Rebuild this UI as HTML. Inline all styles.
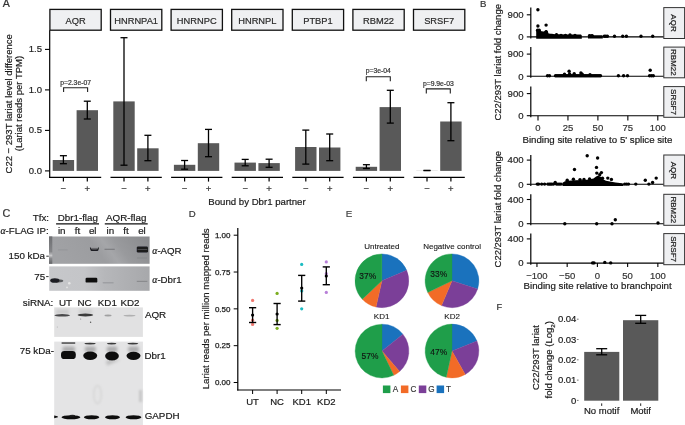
<!DOCTYPE html>
<html><head><meta charset="utf-8"><style>
html,body{margin:0;padding:0;background:#fff;}
body{width:685px;height:425px;overflow:hidden;position:relative;}
svg{position:absolute;left:0;top:0;font-family:"Liberation Sans", sans-serif;will-change:transform;}
</style></head><body>
<svg width="685" height="425" viewBox="0 0 685 425">
<defs><filter id="b1" x="-50%" y="-50%" width="200%" height="200%"><feGaussianBlur stdDeviation="0.6"/></filter><filter id="b2" x="-50%" y="-50%" width="200%" height="200%"><feGaussianBlur stdDeviation="1.0"/></filter><filter id="b3" x="-50%" y="-50%" width="200%" height="200%"><feGaussianBlur stdDeviation="1.8"/></filter><linearGradient id="g1" x1="0" y1="0" x2="1" y2="0"><stop offset="0" stop-color="#6e6e6e"/><stop offset="0.03" stop-color="#a9a9a9"/><stop offset="0.5" stop-color="#b9b9b9"/><stop offset="1" stop-color="#b0b0b0"/></linearGradient><linearGradient id="g2" x1="0" y1="0.2" x2="1" y2="0"><stop offset="0" stop-color="#a1a2a5"/><stop offset="0.4" stop-color="#9c9da0"/><stop offset="0.52" stop-color="#a5a6a9"/><stop offset="0.64" stop-color="#999a9d"/><stop offset="1" stop-color="#88898c"/></linearGradient><linearGradient id="g3" x1="0" y1="0" x2="0" y2="1"><stop offset="0" stop-color="#6e6f72"/><stop offset="0.55" stop-color="#848588"/><stop offset="0.7" stop-color="#c8c8ca"/><stop offset="0.8" stop-color="#8a8b8e"/><stop offset="1" stop-color="#636467"/></linearGradient><linearGradient id="g4" x1="0" y1="0" x2="1" y2="0"><stop offset="0" stop-color="#c6c7ca"/><stop offset="0.35" stop-color="#c4c5c8"/><stop offset="0.55" stop-color="#b6b7ba"/><stop offset="1" stop-color="#a7a8ab"/></linearGradient></defs>
<text x="2.8" y="6.9" font-size="10.6" text-anchor="start" fill="#333" stroke="#333" stroke-width="0.2">A</text>
<line x1="49.7" y1="30.2" x2="49.7" y2="177.9" stroke="#000" stroke-width="1.2" stroke-linecap="butt"/>
<line x1="45.0" y1="49.400000000000006" x2="49.7" y2="49.400000000000006" stroke="#000" stroke-width="1.1" stroke-linecap="butt"/>
<text x="42.0" y="52.400000000000006" font-size="9.5" text-anchor="end" fill="#222" stroke="#222" stroke-width="0.2">1.5</text>
<line x1="45.0" y1="89.9" x2="49.7" y2="89.9" stroke="#000" stroke-width="1.1" stroke-linecap="butt"/>
<text x="42.0" y="92.9" font-size="9.5" text-anchor="end" fill="#222" stroke="#222" stroke-width="0.2">1.0</text>
<line x1="45.0" y1="130.4" x2="49.7" y2="130.4" stroke="#000" stroke-width="1.1" stroke-linecap="butt"/>
<text x="42.0" y="133.4" font-size="9.5" text-anchor="end" fill="#222" stroke="#222" stroke-width="0.2">0.5</text>
<line x1="45.0" y1="170.9" x2="49.7" y2="170.9" stroke="#000" stroke-width="1.1" stroke-linecap="butt"/>
<text x="42.0" y="173.9" font-size="9.5" text-anchor="end" fill="#222" stroke="#222" stroke-width="0.2">0.0</text>
<text x="12.0" y="103.8" font-size="9.5" text-anchor="middle" fill="#1a1a1a" stroke="#1a1a1a" stroke-width="0.2" transform="rotate(-90 12.0 103.8)">C22 − 293T lariat level difference</text>
<text x="22.4" y="103.6" font-size="9.5" text-anchor="middle" fill="#1a1a1a" stroke="#1a1a1a" stroke-width="0.2" transform="rotate(-90 22.4 103.6)">(Lariat reads per TPM)</text>
<rect x="49.90" y="9.40" width="51.30" height="20.80" fill="#eff0f2" stroke="#111" stroke-width="1.3"/>
<text x="75.55" y="23.7" font-size="9.3" text-anchor="middle" fill="#2a2a2a" stroke="#2a2a2a" stroke-width="0.2">AQR</text>
<line x1="49.3" y1="177.3" x2="101.19999999999999" y2="177.3" stroke="#000" stroke-width="1.2" stroke-linecap="butt"/>
<rect x="52.70" y="160.00" width="21.40" height="10.90" fill="#595959"/>
<line x1="63.4" y1="155.7" x2="63.4" y2="163.7" stroke="#000" stroke-width="1.3" stroke-linecap="butt"/>
<line x1="59.9" y1="155.7" x2="66.9" y2="155.7" stroke="#000" stroke-width="1.3" stroke-linecap="butt"/>
<line x1="59.9" y1="163.7" x2="66.9" y2="163.7" stroke="#000" stroke-width="1.3" stroke-linecap="butt"/>
<line x1="63.4" y1="177.3" x2="63.4" y2="181.6" stroke="#000" stroke-width="1.2" stroke-linecap="butt"/>
<text x="63.4" y="191.7" font-size="9.5" text-anchor="middle" fill="#333" stroke="#333" stroke-width="0.2">−</text>
<rect x="76.60" y="110.20" width="21.40" height="60.70" fill="#595959"/>
<line x1="87.3" y1="101.2" x2="87.3" y2="119.0" stroke="#000" stroke-width="1.3" stroke-linecap="butt"/>
<line x1="83.8" y1="101.2" x2="90.8" y2="101.2" stroke="#000" stroke-width="1.3" stroke-linecap="butt"/>
<line x1="83.8" y1="119.0" x2="90.8" y2="119.0" stroke="#000" stroke-width="1.3" stroke-linecap="butt"/>
<line x1="87.3" y1="177.3" x2="87.3" y2="181.6" stroke="#000" stroke-width="1.2" stroke-linecap="butt"/>
<text x="87.3" y="191.7" font-size="9.5" text-anchor="middle" fill="#333" stroke="#333" stroke-width="0.2">+</text>
<rect x="110.50" y="9.40" width="51.30" height="20.80" fill="#eff0f2" stroke="#111" stroke-width="1.3"/>
<text x="136.15" y="23.7" font-size="9.3" text-anchor="middle" fill="#2a2a2a" stroke="#2a2a2a" stroke-width="0.2">HNRNPA1</text>
<line x1="110.5" y1="177.3" x2="161.8" y2="177.3" stroke="#000" stroke-width="1.2" stroke-linecap="butt"/>
<rect x="113.30" y="101.40" width="21.40" height="69.50" fill="#595959"/>
<line x1="124.0" y1="37.7" x2="124.0" y2="165.2" stroke="#000" stroke-width="1.3" stroke-linecap="butt"/>
<line x1="120.5" y1="37.7" x2="127.5" y2="37.7" stroke="#000" stroke-width="1.3" stroke-linecap="butt"/>
<line x1="120.5" y1="165.2" x2="127.5" y2="165.2" stroke="#000" stroke-width="1.3" stroke-linecap="butt"/>
<line x1="124.0" y1="177.3" x2="124.0" y2="181.6" stroke="#000" stroke-width="1.2" stroke-linecap="butt"/>
<text x="124.0" y="191.7" font-size="9.5" text-anchor="middle" fill="#333" stroke="#333" stroke-width="0.2">−</text>
<rect x="137.20" y="148.30" width="21.40" height="22.60" fill="#595959"/>
<line x1="147.9" y1="135.3" x2="147.9" y2="160.7" stroke="#000" stroke-width="1.3" stroke-linecap="butt"/>
<line x1="144.4" y1="135.3" x2="151.4" y2="135.3" stroke="#000" stroke-width="1.3" stroke-linecap="butt"/>
<line x1="144.4" y1="160.7" x2="151.4" y2="160.7" stroke="#000" stroke-width="1.3" stroke-linecap="butt"/>
<line x1="147.9" y1="177.3" x2="147.9" y2="181.6" stroke="#000" stroke-width="1.2" stroke-linecap="butt"/>
<text x="147.9" y="191.7" font-size="9.5" text-anchor="middle" fill="#333" stroke="#333" stroke-width="0.2">+</text>
<rect x="171.10" y="9.40" width="51.30" height="20.80" fill="#eff0f2" stroke="#111" stroke-width="1.3"/>
<text x="196.75" y="23.7" font-size="9.3" text-anchor="middle" fill="#2a2a2a" stroke="#2a2a2a" stroke-width="0.2">HNRNPC</text>
<line x1="171.1" y1="177.3" x2="222.39999999999998" y2="177.3" stroke="#000" stroke-width="1.2" stroke-linecap="butt"/>
<rect x="173.90" y="164.80" width="21.40" height="6.10" fill="#595959"/>
<line x1="184.6" y1="160.5" x2="184.6" y2="169.2" stroke="#000" stroke-width="1.3" stroke-linecap="butt"/>
<line x1="181.1" y1="160.5" x2="188.1" y2="160.5" stroke="#000" stroke-width="1.3" stroke-linecap="butt"/>
<line x1="181.1" y1="169.2" x2="188.1" y2="169.2" stroke="#000" stroke-width="1.3" stroke-linecap="butt"/>
<line x1="184.6" y1="177.3" x2="184.6" y2="181.6" stroke="#000" stroke-width="1.2" stroke-linecap="butt"/>
<text x="184.6" y="191.7" font-size="9.5" text-anchor="middle" fill="#333" stroke="#333" stroke-width="0.2">−</text>
<rect x="197.80" y="143.20" width="21.40" height="27.70" fill="#595959"/>
<line x1="208.5" y1="129.4" x2="208.5" y2="156.7" stroke="#000" stroke-width="1.3" stroke-linecap="butt"/>
<line x1="205.0" y1="129.4" x2="212.0" y2="129.4" stroke="#000" stroke-width="1.3" stroke-linecap="butt"/>
<line x1="205.0" y1="156.7" x2="212.0" y2="156.7" stroke="#000" stroke-width="1.3" stroke-linecap="butt"/>
<line x1="208.5" y1="177.3" x2="208.5" y2="181.6" stroke="#000" stroke-width="1.2" stroke-linecap="butt"/>
<text x="208.5" y="191.7" font-size="9.5" text-anchor="middle" fill="#333" stroke="#333" stroke-width="0.2">+</text>
<rect x="231.70" y="9.40" width="51.30" height="20.80" fill="#eff0f2" stroke="#111" stroke-width="1.3"/>
<text x="257.35" y="23.7" font-size="9.3" text-anchor="middle" fill="#2a2a2a" stroke="#2a2a2a" stroke-width="0.2">HNRNPL</text>
<line x1="231.70000000000002" y1="177.3" x2="283.0" y2="177.3" stroke="#000" stroke-width="1.2" stroke-linecap="butt"/>
<rect x="234.50" y="162.60" width="21.40" height="8.30" fill="#595959"/>
<line x1="245.20000000000002" y1="159.4" x2="245.20000000000002" y2="165.8" stroke="#000" stroke-width="1.3" stroke-linecap="butt"/>
<line x1="241.70000000000002" y1="159.4" x2="248.70000000000002" y2="159.4" stroke="#000" stroke-width="1.3" stroke-linecap="butt"/>
<line x1="241.70000000000002" y1="165.8" x2="248.70000000000002" y2="165.8" stroke="#000" stroke-width="1.3" stroke-linecap="butt"/>
<line x1="245.20000000000002" y1="177.3" x2="245.20000000000002" y2="181.6" stroke="#000" stroke-width="1.2" stroke-linecap="butt"/>
<text x="245.20000000000002" y="191.7" font-size="9.5" text-anchor="middle" fill="#333" stroke="#333" stroke-width="0.2">−</text>
<rect x="258.40" y="163.10" width="21.40" height="7.80" fill="#595959"/>
<line x1="269.1" y1="159.2" x2="269.1" y2="167.3" stroke="#000" stroke-width="1.3" stroke-linecap="butt"/>
<line x1="265.6" y1="159.2" x2="272.6" y2="159.2" stroke="#000" stroke-width="1.3" stroke-linecap="butt"/>
<line x1="265.6" y1="167.3" x2="272.6" y2="167.3" stroke="#000" stroke-width="1.3" stroke-linecap="butt"/>
<line x1="269.1" y1="177.3" x2="269.1" y2="181.6" stroke="#000" stroke-width="1.2" stroke-linecap="butt"/>
<text x="269.1" y="191.7" font-size="9.5" text-anchor="middle" fill="#333" stroke="#333" stroke-width="0.2">+</text>
<rect x="292.30" y="9.40" width="51.30" height="20.80" fill="#eff0f2" stroke="#111" stroke-width="1.3"/>
<text x="317.95" y="23.7" font-size="9.3" text-anchor="middle" fill="#2a2a2a" stroke="#2a2a2a" stroke-width="0.2">PTBP1</text>
<line x1="292.3" y1="177.3" x2="343.6" y2="177.3" stroke="#000" stroke-width="1.2" stroke-linecap="butt"/>
<rect x="295.10" y="147.00" width="21.40" height="23.90" fill="#595959"/>
<line x1="305.8" y1="130.1" x2="305.8" y2="164.1" stroke="#000" stroke-width="1.3" stroke-linecap="butt"/>
<line x1="302.3" y1="130.1" x2="309.3" y2="130.1" stroke="#000" stroke-width="1.3" stroke-linecap="butt"/>
<line x1="302.3" y1="164.1" x2="309.3" y2="164.1" stroke="#000" stroke-width="1.3" stroke-linecap="butt"/>
<line x1="305.8" y1="177.3" x2="305.8" y2="181.6" stroke="#000" stroke-width="1.2" stroke-linecap="butt"/>
<text x="305.8" y="191.7" font-size="9.5" text-anchor="middle" fill="#333" stroke="#333" stroke-width="0.2">−</text>
<rect x="319.00" y="147.50" width="21.40" height="23.40" fill="#595959"/>
<line x1="329.7" y1="134.0" x2="329.7" y2="160.7" stroke="#000" stroke-width="1.3" stroke-linecap="butt"/>
<line x1="326.2" y1="134.0" x2="333.2" y2="134.0" stroke="#000" stroke-width="1.3" stroke-linecap="butt"/>
<line x1="326.2" y1="160.7" x2="333.2" y2="160.7" stroke="#000" stroke-width="1.3" stroke-linecap="butt"/>
<line x1="329.7" y1="177.3" x2="329.7" y2="181.6" stroke="#000" stroke-width="1.2" stroke-linecap="butt"/>
<text x="329.7" y="191.7" font-size="9.5" text-anchor="middle" fill="#333" stroke="#333" stroke-width="0.2">+</text>
<rect x="352.90" y="9.40" width="51.30" height="20.80" fill="#eff0f2" stroke="#111" stroke-width="1.3"/>
<text x="378.54999999999995" y="23.7" font-size="9.3" text-anchor="middle" fill="#2a2a2a" stroke="#2a2a2a" stroke-width="0.2">RBM22</text>
<line x1="352.9" y1="177.3" x2="404.2" y2="177.3" stroke="#000" stroke-width="1.2" stroke-linecap="butt"/>
<rect x="355.70" y="166.80" width="21.40" height="4.10" fill="#595959"/>
<line x1="366.4" y1="164.7" x2="366.4" y2="168.5" stroke="#000" stroke-width="1.3" stroke-linecap="butt"/>
<line x1="362.9" y1="164.7" x2="369.9" y2="164.7" stroke="#000" stroke-width="1.3" stroke-linecap="butt"/>
<line x1="362.9" y1="168.5" x2="369.9" y2="168.5" stroke="#000" stroke-width="1.3" stroke-linecap="butt"/>
<line x1="366.4" y1="177.3" x2="366.4" y2="181.6" stroke="#000" stroke-width="1.2" stroke-linecap="butt"/>
<text x="366.4" y="191.7" font-size="9.5" text-anchor="middle" fill="#333" stroke="#333" stroke-width="0.2">−</text>
<rect x="379.60" y="107.10" width="21.40" height="63.80" fill="#595959"/>
<line x1="390.29999999999995" y1="90.3" x2="390.29999999999995" y2="123.1" stroke="#000" stroke-width="1.3" stroke-linecap="butt"/>
<line x1="386.79999999999995" y1="90.3" x2="393.79999999999995" y2="90.3" stroke="#000" stroke-width="1.3" stroke-linecap="butt"/>
<line x1="386.79999999999995" y1="123.1" x2="393.79999999999995" y2="123.1" stroke="#000" stroke-width="1.3" stroke-linecap="butt"/>
<line x1="390.29999999999995" y1="177.3" x2="390.29999999999995" y2="181.6" stroke="#000" stroke-width="1.2" stroke-linecap="butt"/>
<text x="390.29999999999995" y="191.7" font-size="9.5" text-anchor="middle" fill="#333" stroke="#333" stroke-width="0.2">+</text>
<rect x="413.50" y="9.40" width="51.30" height="20.80" fill="#eff0f2" stroke="#111" stroke-width="1.3"/>
<text x="439.15" y="23.7" font-size="9.3" text-anchor="middle" fill="#2a2a2a" stroke="#2a2a2a" stroke-width="0.2">SRSF7</text>
<line x1="413.5" y1="177.3" x2="464.8" y2="177.3" stroke="#000" stroke-width="1.2" stroke-linecap="butt"/>
<rect x="416.30" y="170.30" width="21.40" height="0.60" fill="#ddd"/>
<line x1="423.5" y1="170.5" x2="430.5" y2="170.5" stroke="#000" stroke-width="1.3" stroke-linecap="butt"/>
<line x1="423.5" y1="170.5" x2="430.5" y2="170.5" stroke="#000" stroke-width="1.3" stroke-linecap="butt"/>
<line x1="427.0" y1="177.3" x2="427.0" y2="181.6" stroke="#000" stroke-width="1.2" stroke-linecap="butt"/>
<text x="427.0" y="191.7" font-size="9.5" text-anchor="middle" fill="#333" stroke="#333" stroke-width="0.2">−</text>
<rect x="440.20" y="121.50" width="21.40" height="49.40" fill="#595959"/>
<line x1="450.9" y1="102.7" x2="450.9" y2="140.7" stroke="#000" stroke-width="1.3" stroke-linecap="butt"/>
<line x1="447.4" y1="102.7" x2="454.4" y2="102.7" stroke="#000" stroke-width="1.3" stroke-linecap="butt"/>
<line x1="447.4" y1="140.7" x2="454.4" y2="140.7" stroke="#000" stroke-width="1.3" stroke-linecap="butt"/>
<line x1="450.9" y1="177.3" x2="450.9" y2="181.6" stroke="#000" stroke-width="1.2" stroke-linecap="butt"/>
<text x="450.9" y="191.7" font-size="9.5" text-anchor="middle" fill="#333" stroke="#333" stroke-width="0.2">+</text>
<path d="M63.6 92.0 V87.7 H87.6 V92.0" fill="none" stroke="#222" stroke-width="1.1"/>
<text x="75.6" y="84.7" font-size="6.8" text-anchor="middle" fill="#333" stroke="#333" stroke-width="0.2">p=2.3e-07</text>
<path d="M366.3 81.2 V76.7 H390.3 V81.2" fill="none" stroke="#222" stroke-width="1.1"/>
<text x="378.3" y="73.2" font-size="6.8" text-anchor="middle" fill="#333" stroke="#333" stroke-width="0.2">p=3e-04</text>
<path d="M426.3 93.5 V88.9 H450.3 V93.5" fill="none" stroke="#222" stroke-width="1.1"/>
<text x="438.3" y="85.5" font-size="6.8" text-anchor="middle" fill="#333" stroke="#333" stroke-width="0.2">p=9.9e-03</text>
<text x="257.0" y="204.9" font-size="9.65" text-anchor="middle" fill="#1a1a1a" stroke="#1a1a1a" stroke-width="0.2">Bound by Dbr1 partner</text>
<text x="479.9" y="6.9" font-size="9.6" text-anchor="start" fill="#333" stroke="#333" stroke-width="0.2">B</text>
<line x1="530.8" y1="7.6" x2="530.8" y2="38.5" stroke="#000" stroke-width="1.2" stroke-linecap="butt"/>
<line x1="530.8" y1="36.9" x2="663.8" y2="36.9" stroke="#000" stroke-width="1.1" stroke-linecap="butt"/>
<line x1="526.8" y1="14.799999999999997" x2="530.8" y2="14.799999999999997" stroke="#000" stroke-width="1.1" stroke-linecap="butt"/>
<text x="523.6" y="18.099999999999998" font-size="9.6" text-anchor="end" fill="#222" stroke="#222" stroke-width="0.2">900</text>
<line x1="526.8" y1="36.9" x2="530.8" y2="36.9" stroke="#000" stroke-width="1.1" stroke-linecap="butt"/>
<text x="523.6" y="40.199999999999996" font-size="9.6" text-anchor="end" fill="#222" stroke="#222" stroke-width="0.2">0</text>
<rect x="663.80" y="7.60" width="20.80" height="30.90" fill="#eff0f2" stroke="#333" stroke-width="1.0"/>
<text x="671.4" y="23.05" font-size="8.0" text-anchor="middle" fill="#1a1a1a" stroke="#1a1a1a" stroke-width="0.2" transform="rotate(90 671.4 23.05)">AQR</text>
<line x1="530.8" y1="47.1" x2="530.8" y2="77.8" stroke="#000" stroke-width="1.2" stroke-linecap="butt"/>
<line x1="530.8" y1="76.2" x2="663.8" y2="76.2" stroke="#000" stroke-width="1.1" stroke-linecap="butt"/>
<line x1="526.8" y1="54.1" x2="530.8" y2="54.1" stroke="#000" stroke-width="1.1" stroke-linecap="butt"/>
<text x="523.6" y="57.4" font-size="9.6" text-anchor="end" fill="#222" stroke="#222" stroke-width="0.2">900</text>
<line x1="526.8" y1="76.2" x2="530.8" y2="76.2" stroke="#000" stroke-width="1.1" stroke-linecap="butt"/>
<text x="523.6" y="79.5" font-size="9.6" text-anchor="end" fill="#222" stroke="#222" stroke-width="0.2">0</text>
<rect x="663.80" y="47.10" width="20.80" height="30.70" fill="#eff0f2" stroke="#333" stroke-width="1.0"/>
<text x="671.4" y="62.45" font-size="8.0" text-anchor="middle" fill="#1a1a1a" stroke="#1a1a1a" stroke-width="0.2" transform="rotate(90 671.4 62.45)">RBM22</text>
<line x1="530.8" y1="86.6" x2="530.8" y2="117.3" stroke="#000" stroke-width="1.2" stroke-linecap="butt"/>
<line x1="530.8" y1="115.7" x2="663.8" y2="115.7" stroke="#000" stroke-width="1.1" stroke-linecap="butt"/>
<line x1="526.8" y1="93.6" x2="530.8" y2="93.6" stroke="#000" stroke-width="1.1" stroke-linecap="butt"/>
<text x="523.6" y="96.89999999999999" font-size="9.6" text-anchor="end" fill="#222" stroke="#222" stroke-width="0.2">900</text>
<line x1="526.8" y1="115.7" x2="530.8" y2="115.7" stroke="#000" stroke-width="1.1" stroke-linecap="butt"/>
<text x="523.6" y="119.0" font-size="9.6" text-anchor="end" fill="#222" stroke="#222" stroke-width="0.2">0</text>
<rect x="663.80" y="86.60" width="20.80" height="30.70" fill="#eff0f2" stroke="#333" stroke-width="1.0"/>
<text x="671.4" y="101.94999999999999" font-size="8.0" text-anchor="middle" fill="#1a1a1a" stroke="#1a1a1a" stroke-width="0.2" transform="rotate(90 671.4 101.94999999999999)">SRSF7</text>
<line x1="538.0" y1="115.7" x2="538.0" y2="120.4" stroke="#000" stroke-width="1.1" stroke-linecap="butt"/>
<text x="538.0" y="130.6" font-size="9.5" text-anchor="middle" fill="#333" stroke="#333" stroke-width="0.2">0</text>
<line x1="567.95" y1="115.7" x2="567.95" y2="120.4" stroke="#000" stroke-width="1.1" stroke-linecap="butt"/>
<text x="567.95" y="130.6" font-size="9.5" text-anchor="middle" fill="#333" stroke="#333" stroke-width="0.2">25</text>
<line x1="597.9" y1="115.7" x2="597.9" y2="120.4" stroke="#000" stroke-width="1.1" stroke-linecap="butt"/>
<text x="597.9" y="130.6" font-size="9.5" text-anchor="middle" fill="#333" stroke="#333" stroke-width="0.2">50</text>
<line x1="627.85" y1="115.7" x2="627.85" y2="120.4" stroke="#000" stroke-width="1.1" stroke-linecap="butt"/>
<text x="627.85" y="130.6" font-size="9.5" text-anchor="middle" fill="#333" stroke="#333" stroke-width="0.2">75</text>
<line x1="657.8" y1="115.7" x2="657.8" y2="120.4" stroke="#000" stroke-width="1.1" stroke-linecap="butt"/>
<text x="657.8" y="130.6" font-size="9.5" text-anchor="middle" fill="#333" stroke="#333" stroke-width="0.2">100</text>
<text x="597.4" y="143.4" font-size="9.7" text-anchor="middle" fill="#1a1a1a" stroke="#1a1a1a" stroke-width="0.2">Binding site relative to 5' splice site</text>
<text x="501.2" y="62.3" font-size="9.5" text-anchor="middle" fill="#1a1a1a" stroke="#1a1a1a" stroke-width="0.2" transform="rotate(-90 501.2 62.3)">C22/293T lariat fold change</text>
<line x1="530.8" y1="155.0" x2="530.8" y2="185.9" stroke="#000" stroke-width="1.2" stroke-linecap="butt"/>
<line x1="530.8" y1="184.3" x2="663.8" y2="184.3" stroke="#000" stroke-width="1.1" stroke-linecap="butt"/>
<line x1="526.8" y1="160.10000000000002" x2="530.8" y2="160.10000000000002" stroke="#000" stroke-width="1.1" stroke-linecap="butt"/>
<text x="523.6" y="163.40000000000003" font-size="9.6" text-anchor="end" fill="#222" stroke="#222" stroke-width="0.2">400</text>
<line x1="526.8" y1="184.3" x2="530.8" y2="184.3" stroke="#000" stroke-width="1.1" stroke-linecap="butt"/>
<text x="523.6" y="187.60000000000002" font-size="9.6" text-anchor="end" fill="#222" stroke="#222" stroke-width="0.2">0</text>
<rect x="663.80" y="155.00" width="20.80" height="30.90" fill="#eff0f2" stroke="#333" stroke-width="1.0"/>
<text x="671.4" y="170.45" font-size="8.0" text-anchor="middle" fill="#1a1a1a" stroke="#1a1a1a" stroke-width="0.2" transform="rotate(90 671.4 170.45)">AQR</text>
<line x1="530.8" y1="194.3" x2="530.8" y2="225.29999999999998" stroke="#000" stroke-width="1.2" stroke-linecap="butt"/>
<line x1="530.8" y1="223.7" x2="663.8" y2="223.7" stroke="#000" stroke-width="1.1" stroke-linecap="butt"/>
<line x1="526.8" y1="199.5" x2="530.8" y2="199.5" stroke="#000" stroke-width="1.1" stroke-linecap="butt"/>
<text x="523.6" y="202.8" font-size="9.6" text-anchor="end" fill="#222" stroke="#222" stroke-width="0.2">400</text>
<line x1="526.8" y1="223.7" x2="530.8" y2="223.7" stroke="#000" stroke-width="1.1" stroke-linecap="butt"/>
<text x="523.6" y="227.0" font-size="9.6" text-anchor="end" fill="#222" stroke="#222" stroke-width="0.2">0</text>
<rect x="663.80" y="194.30" width="20.80" height="31.00" fill="#eff0f2" stroke="#333" stroke-width="1.0"/>
<text x="671.4" y="209.8" font-size="8.0" text-anchor="middle" fill="#1a1a1a" stroke="#1a1a1a" stroke-width="0.2" transform="rotate(90 671.4 209.8)">RBM22</text>
<line x1="530.8" y1="233.6" x2="530.8" y2="264.70000000000005" stroke="#000" stroke-width="1.2" stroke-linecap="butt"/>
<line x1="530.8" y1="263.1" x2="663.8" y2="263.1" stroke="#000" stroke-width="1.1" stroke-linecap="butt"/>
<line x1="526.8" y1="238.90000000000003" x2="530.8" y2="238.90000000000003" stroke="#000" stroke-width="1.1" stroke-linecap="butt"/>
<text x="523.6" y="242.20000000000005" font-size="9.6" text-anchor="end" fill="#222" stroke="#222" stroke-width="0.2">400</text>
<line x1="526.8" y1="263.1" x2="530.8" y2="263.1" stroke="#000" stroke-width="1.1" stroke-linecap="butt"/>
<text x="523.6" y="266.40000000000003" font-size="9.6" text-anchor="end" fill="#222" stroke="#222" stroke-width="0.2">0</text>
<rect x="663.80" y="233.60" width="20.80" height="31.10" fill="#eff0f2" stroke="#333" stroke-width="1.0"/>
<text x="671.4" y="249.15000000000003" font-size="8.0" text-anchor="middle" fill="#1a1a1a" stroke="#1a1a1a" stroke-width="0.2" transform="rotate(90 671.4 249.15000000000003)">SRSF7</text>
<line x1="536.9499999999999" y1="263.1" x2="536.9499999999999" y2="267.0" stroke="#000" stroke-width="1.1" stroke-linecap="butt"/>
<text x="536.9499999999999" y="279.1" font-size="9.5" text-anchor="middle" fill="#333" stroke="#333" stroke-width="0.2">−100</text>
<line x1="567.175" y1="263.1" x2="567.175" y2="267.0" stroke="#000" stroke-width="1.1" stroke-linecap="butt"/>
<text x="567.175" y="279.1" font-size="9.5" text-anchor="middle" fill="#333" stroke="#333" stroke-width="0.2">−50</text>
<line x1="597.4" y1="263.1" x2="597.4" y2="267.0" stroke="#000" stroke-width="1.1" stroke-linecap="butt"/>
<text x="597.4" y="279.1" font-size="9.5" text-anchor="middle" fill="#333" stroke="#333" stroke-width="0.2">0</text>
<line x1="627.625" y1="263.1" x2="627.625" y2="267.0" stroke="#000" stroke-width="1.1" stroke-linecap="butt"/>
<text x="627.625" y="279.1" font-size="9.5" text-anchor="middle" fill="#333" stroke="#333" stroke-width="0.2">50</text>
<line x1="657.85" y1="263.1" x2="657.85" y2="267.0" stroke="#000" stroke-width="1.1" stroke-linecap="butt"/>
<text x="657.85" y="279.1" font-size="9.5" text-anchor="middle" fill="#333" stroke="#333" stroke-width="0.2">100</text>
<text x="597.6" y="289.2" font-size="9.7" text-anchor="middle" fill="#1a1a1a" stroke="#1a1a1a" stroke-width="0.2">Binding site relative to branchpoint</text>
<text x="501.2" y="209.2" font-size="9.5" text-anchor="middle" fill="#1a1a1a" stroke="#1a1a1a" stroke-width="0.2" transform="rotate(-90 501.2 209.2)">C22/293T lariat fold change</text>
<path d="M536.2 38.7 L536.2 30.2 L537.0 28.9 L539.8 28.9 L540.6 30.5 L541.5 31.3 L543.8 31.5 L544.6 31.3 L545.4 30.4 L546.8 30.3 L547.8 31.5 L548.6 33.6 L555.5 34.2 L556.5 33.3 L557.5 34.2 L569.0 34.4 L570.0 33.7 L571.0 34.4 L581.0 34.5 L581.8 35.4 L581.8 38.7 Z" fill="#000"/>
<path d="M588.0 38.6 L588.0 35.2 L589.0 34.5 L593.0 34.5 L594.0 35.2 L602.2 35.3 L602.8 35.9 L602.8 38.6 Z" fill="#000"/>
<path d="M562.5 186.0 L562.5 182.7 L565.0 181.2 L568.0 180.8 L575.0 180.3 L585.0 180.0 L590.0 179.3 L593.5 178.4 L595.8 176.8 L597.5 175.8 L599.5 176.2 L601.5 177.2 L603.5 179.5 L606.0 180.8 L610.0 181.6 L615.5 182.4 L622.0 183.2 L623.5 184.2 L623.5 186.0 Z" fill="#000"/>
<circle cx="537.90" cy="9.70" r="1.7" fill="#000"/>
<circle cx="537.90" cy="26.00" r="1.7" fill="#000"/>
<circle cx="546.10" cy="25.10" r="1.7" fill="#000"/>
<circle cx="537.60" cy="30.30" r="1.7" fill="#000"/>
<circle cx="539.20" cy="30.30" r="1.7" fill="#000"/>
<circle cx="546.10" cy="31.60" r="1.7" fill="#000"/>
<circle cx="556.50" cy="34.60" r="1.7" fill="#000"/>
<circle cx="570.00" cy="35.00" r="1.7" fill="#000"/>
<circle cx="552.00" cy="35.40" r="1.7" fill="#000"/>
<circle cx="561.00" cy="35.40" r="1.7" fill="#000"/>
<circle cx="565.50" cy="35.40" r="1.7" fill="#000"/>
<circle cx="575.00" cy="35.50" r="1.7" fill="#000"/>
<circle cx="589.50" cy="35.80" r="1.7" fill="#000"/>
<circle cx="592.00" cy="35.80" r="1.7" fill="#000"/>
<circle cx="604.30" cy="36.30" r="1.7" fill="#000"/>
<circle cx="605.80" cy="36.30" r="1.7" fill="#000"/>
<circle cx="607.40" cy="36.30" r="1.7" fill="#000"/>
<circle cx="614.50" cy="36.30" r="1.7" fill="#000"/>
<circle cx="622.70" cy="36.30" r="1.7" fill="#000"/>
<circle cx="626.40" cy="36.30" r="1.7" fill="#000"/>
<circle cx="641.00" cy="36.30" r="1.7" fill="#000"/>
<circle cx="652.70" cy="36.30" r="1.7" fill="#000"/>
<circle cx="569.10" cy="71.20" r="1.7" fill="#000"/>
<circle cx="650.20" cy="70.30" r="1.7" fill="#000"/>
<circle cx="564.50" cy="74.30" r="1.7" fill="#000"/>
<circle cx="569.60" cy="74.00" r="1.7" fill="#000"/>
<circle cx="574.20" cy="73.80" r="1.7" fill="#000"/>
<circle cx="580.90" cy="72.90" r="1.7" fill="#000"/>
<circle cx="582.20" cy="74.20" r="1.7" fill="#000"/>
<circle cx="590.00" cy="74.80" r="1.7" fill="#000"/>
<circle cx="547.50" cy="75.70" r="1.7" fill="#000"/>
<circle cx="549.50" cy="75.70" r="1.7" fill="#000"/>
<circle cx="555.50" cy="75.70" r="1.7" fill="#000"/>
<circle cx="556.75" cy="75.70" r="1.7" fill="#000"/>
<circle cx="558.00" cy="75.70" r="1.7" fill="#000"/>
<circle cx="559.25" cy="75.70" r="1.7" fill="#000"/>
<circle cx="560.50" cy="75.70" r="1.7" fill="#000"/>
<circle cx="561.75" cy="75.70" r="1.7" fill="#000"/>
<circle cx="563.00" cy="75.70" r="1.7" fill="#000"/>
<circle cx="564.25" cy="75.70" r="1.7" fill="#000"/>
<circle cx="565.50" cy="75.70" r="1.7" fill="#000"/>
<circle cx="566.75" cy="75.70" r="1.7" fill="#000"/>
<circle cx="568.00" cy="75.70" r="1.7" fill="#000"/>
<circle cx="569.25" cy="75.70" r="1.7" fill="#000"/>
<circle cx="570.50" cy="75.70" r="1.7" fill="#000"/>
<circle cx="571.75" cy="75.70" r="1.7" fill="#000"/>
<circle cx="573.00" cy="75.70" r="1.7" fill="#000"/>
<circle cx="574.25" cy="75.70" r="1.7" fill="#000"/>
<circle cx="575.50" cy="75.70" r="1.7" fill="#000"/>
<circle cx="576.75" cy="75.70" r="1.7" fill="#000"/>
<circle cx="578.00" cy="75.70" r="1.7" fill="#000"/>
<circle cx="579.25" cy="75.70" r="1.7" fill="#000"/>
<circle cx="580.50" cy="75.70" r="1.7" fill="#000"/>
<circle cx="581.75" cy="75.70" r="1.7" fill="#000"/>
<circle cx="583.00" cy="75.70" r="1.7" fill="#000"/>
<circle cx="584.25" cy="75.70" r="1.7" fill="#000"/>
<circle cx="585.50" cy="75.70" r="1.7" fill="#000"/>
<circle cx="586.75" cy="75.70" r="1.7" fill="#000"/>
<circle cx="588.00" cy="75.70" r="1.7" fill="#000"/>
<circle cx="589.25" cy="75.70" r="1.7" fill="#000"/>
<circle cx="590.50" cy="75.70" r="1.7" fill="#000"/>
<circle cx="591.75" cy="75.70" r="1.7" fill="#000"/>
<circle cx="593.00" cy="75.70" r="1.7" fill="#000"/>
<circle cx="594.25" cy="75.70" r="1.7" fill="#000"/>
<circle cx="595.50" cy="75.70" r="1.7" fill="#000"/>
<circle cx="596.75" cy="75.70" r="1.7" fill="#000"/>
<circle cx="598.00" cy="75.70" r="1.7" fill="#000"/>
<circle cx="599.25" cy="75.70" r="1.7" fill="#000"/>
<circle cx="600.50" cy="75.70" r="1.7" fill="#000"/>
<circle cx="618.40" cy="75.70" r="1.7" fill="#000"/>
<circle cx="623.60" cy="75.70" r="1.7" fill="#000"/>
<circle cx="627.50" cy="75.70" r="1.7" fill="#000"/>
<circle cx="649.60" cy="75.70" r="1.7" fill="#000"/>
<circle cx="651.50" cy="75.70" r="1.7" fill="#000"/>
<circle cx="653.30" cy="75.70" r="1.7" fill="#000"/>
<circle cx="537.30" cy="184.10" r="1.7" fill="#000"/>
<circle cx="538.60" cy="184.10" r="1.7" fill="#000"/>
<circle cx="541.70" cy="184.10" r="1.7" fill="#000"/>
<circle cx="544.60" cy="184.10" r="1.7" fill="#000"/>
<circle cx="547.90" cy="184.10" r="1.7" fill="#000"/>
<circle cx="549.30" cy="184.10" r="1.7" fill="#000"/>
<circle cx="550.60" cy="184.10" r="1.7" fill="#000"/>
<circle cx="551.90" cy="184.10" r="1.7" fill="#000"/>
<circle cx="553.50" cy="184.10" r="1.7" fill="#000"/>
<circle cx="556.50" cy="184.10" r="1.7" fill="#000"/>
<circle cx="558.00" cy="184.10" r="1.7" fill="#000"/>
<circle cx="559.50" cy="184.10" r="1.7" fill="#000"/>
<circle cx="561.00" cy="184.10" r="1.7" fill="#000"/>
<circle cx="624.80" cy="184.10" r="1.7" fill="#000"/>
<circle cx="626.70" cy="184.10" r="1.7" fill="#000"/>
<circle cx="628.50" cy="184.10" r="1.7" fill="#000"/>
<circle cx="635.80" cy="184.10" r="1.7" fill="#000"/>
<circle cx="648.90" cy="184.10" r="1.7" fill="#000"/>
<circle cx="555.20" cy="182.50" r="1.7" fill="#000"/>
<circle cx="567.20" cy="180.30" r="1.7" fill="#000"/>
<circle cx="573.40" cy="179.20" r="1.7" fill="#000"/>
<circle cx="589.60" cy="179.00" r="1.7" fill="#000"/>
<circle cx="602.50" cy="178.20" r="1.7" fill="#000"/>
<circle cx="607.80" cy="178.10" r="1.7" fill="#000"/>
<circle cx="611.40" cy="179.40" r="1.7" fill="#000"/>
<circle cx="574.50" cy="169.50" r="1.7" fill="#000"/>
<circle cx="587.20" cy="155.80" r="1.7" fill="#000"/>
<circle cx="597.60" cy="158.00" r="1.7" fill="#000"/>
<circle cx="596.50" cy="167.40" r="1.7" fill="#000"/>
<circle cx="596.80" cy="173.10" r="1.7" fill="#000"/>
<circle cx="601.40" cy="172.60" r="1.7" fill="#000"/>
<circle cx="599.70" cy="174.70" r="1.7" fill="#000"/>
<circle cx="645.30" cy="180.30" r="1.7" fill="#000"/>
<circle cx="652.60" cy="182.50" r="1.7" fill="#000"/>
<circle cx="656.20" cy="178.10" r="1.7" fill="#000"/>
<circle cx="580.00" cy="179.60" r="1.7" fill="#000"/>
<circle cx="584.00" cy="179.40" r="1.7" fill="#000"/>
<circle cx="564.80" cy="223.70" r="1.7" fill="#000"/>
<circle cx="596.70" cy="223.70" r="1.7" fill="#000"/>
<circle cx="612.00" cy="223.70" r="1.7" fill="#000"/>
<circle cx="615.30" cy="219.70" r="1.7" fill="#000"/>
<circle cx="658.00" cy="223.00" r="1.7" fill="#000"/>
<circle cx="592.60" cy="262.90" r="1.7" fill="#000"/>
<circle cx="594.00" cy="262.90" r="1.7" fill="#000"/>
<circle cx="604.80" cy="262.40" r="1.7" fill="#000"/>
<circle cx="610.70" cy="262.90" r="1.7" fill="#000"/>
<text x="2.6" y="216.9" font-size="10.8" text-anchor="start" fill="#333" stroke="#333" stroke-width="0.2">C</text>
<text x="49.0" y="220.7" font-size="9.8" text-anchor="end" fill="#1a1a1a" stroke="#1a1a1a" stroke-width="0.2">Tfx:</text>
<text x="77.8" y="221.0" font-size="9.8" text-anchor="middle" fill="#1a1a1a" stroke="#1a1a1a" stroke-width="0.2">Dbr1-flag</text>
<text x="126.2" y="221.0" font-size="9.8" text-anchor="middle" fill="#1a1a1a" stroke="#1a1a1a" stroke-width="0.2">AQR-flag</text>
<line x1="56.1" y1="223.9" x2="99.0" y2="223.9" stroke="#111" stroke-width="1.3" stroke-linecap="butt"/>
<line x1="104.8" y1="223.9" x2="147.7" y2="223.9" stroke="#111" stroke-width="1.3" stroke-linecap="butt"/>
<text x="48.7" y="233.8" font-size="9.7" text-anchor="end" fill="#1a1a1a" stroke="#1a1a1a" stroke-width="0.2"><tspan font-family="Liberation Serif" font-style="italic">α</tspan>-FLAG IP:</text>
<text x="61.7" y="233.6" font-size="9.8" text-anchor="middle" fill="#1a1a1a" stroke="#1a1a1a" stroke-width="0.2">in</text>
<text x="77.5" y="233.6" font-size="9.8" text-anchor="middle" fill="#1a1a1a" stroke="#1a1a1a" stroke-width="0.2">ft</text>
<text x="92.7" y="233.6" font-size="9.8" text-anchor="middle" fill="#1a1a1a" stroke="#1a1a1a" stroke-width="0.2">el</text>
<text x="110.3" y="233.6" font-size="9.8" text-anchor="middle" fill="#1a1a1a" stroke="#1a1a1a" stroke-width="0.2">in</text>
<text x="126.0" y="233.6" font-size="9.8" text-anchor="middle" fill="#1a1a1a" stroke="#1a1a1a" stroke-width="0.2">ft</text>
<text x="142.0" y="233.6" font-size="9.8" text-anchor="middle" fill="#1a1a1a" stroke="#1a1a1a" stroke-width="0.2">el</text>
<rect x="49.20" y="236.50" width="100.40" height="27.30" fill="url(#g2)"/>
<rect x="49.00" y="236.40" width="3.30" height="27.40" fill="url(#g3)"/>
<g filter="url(#b1)">
<path d="M89.9 247.3 Q90.2 250.9 91.5 251.0 L97.4 251.0 Q98.7 250.9 99.0 247.3 L98.0 247.8 Q97.5 249.2 96.5 249.2 L92.4 249.2 Q91.4 249.2 90.9 247.8 Z" fill="#1e1f22"/>
<rect x="91.2" y="247.9" width="6.5" height="1.3" fill="#6a6b6e"/>
<rect x="136.8" y="246.5" width="11.2" height="6.0" rx="1.2" fill="#1b1c1f"/>
<rect x="137.6" y="249.1" width="9.6" height="0.9" fill="#4e4f52"/>
<rect x="104.5" y="248.7" width="10.3" height="1.2" fill="#7c7d80"/>
<rect x="57.9" y="249.4" width="9.8" height="1.0" fill="#949598"/>
<rect x="137" y="257.6" width="10" height="0.8" fill="#838487"/>
</g>
<text x="45.0" y="259.3" font-size="9.8" text-anchor="end" fill="#1a1a1a" stroke="#1a1a1a" stroke-width="0.2">150 kDa</text>
<line x1="46.3" y1="256.2" x2="48.8" y2="256.2" stroke="#333" stroke-width="1.0" stroke-linecap="butt"/>
<text x="152.3" y="254.2" font-size="9.7" text-anchor="start" fill="#1a1a1a" stroke="#1a1a1a" stroke-width="0.2"><tspan font-family="Liberation Serif" font-style="italic">α</tspan>-AQR</text>
<rect x="49.20" y="266.40" width="100.40" height="24.40" fill="url(#g4)"/>
<g filter="url(#b1)">
<ellipse cx="58.5" cy="280.8" rx="4.8" ry="1.6" fill="#5a5b5e"/>
<ellipse cx="54.8" cy="280.5" rx="4.6" ry="2.3" fill="#1e1f22"/>
<rect x="85.6" y="277.8" width="11.7" height="4.8" rx="1.2" fill="#111"/>
<rect x="102.7" y="282.2" width="10.9" height="1.2" fill="#9a9b9e"/>
<rect x="136.8" y="280.8" width="10.6" height="1.2" fill="#8a8b8e"/>
</g>
<circle cx="69.30" cy="283.30" r="1.3" fill="#e6e6e6"/>
<circle cx="67.00" cy="287.40" r="0.9" fill="#e4e4e4"/>
<text x="45.2" y="279.8" font-size="9.8" text-anchor="end" fill="#1a1a1a" stroke="#1a1a1a" stroke-width="0.2">75</text>
<line x1="46.1" y1="276.6" x2="48.6" y2="276.6" stroke="#333" stroke-width="1.0" stroke-linecap="butt"/>
<text x="152.3" y="282.7" font-size="9.7" text-anchor="start" fill="#1a1a1a" stroke="#1a1a1a" stroke-width="0.2"><tspan font-family="Liberation Serif" font-style="italic">α</tspan>-Dbr1</text>
<text x="53.3" y="306.2" font-size="9.8" text-anchor="end" fill="#1a1a1a" stroke="#1a1a1a" stroke-width="0.2">siRNA:</text>
<text x="65.5" y="306.2" font-size="9.8" text-anchor="middle" fill="#1a1a1a" stroke="#1a1a1a" stroke-width="0.2">UT</text>
<text x="84.6" y="306.2" font-size="9.8" text-anchor="middle" fill="#1a1a1a" stroke="#1a1a1a" stroke-width="0.2">NC</text>
<text x="107.3" y="306.2" font-size="9.8" text-anchor="middle" fill="#1a1a1a" stroke="#1a1a1a" stroke-width="0.2">KD1</text>
<text x="130.0" y="306.2" font-size="9.8" text-anchor="middle" fill="#1a1a1a" stroke="#1a1a1a" stroke-width="0.2">KD2</text>
<rect x="54.20" y="307.40" width="88.70" height="29.50" fill="#e1e1e2"/>
<g filter="url(#b3)">
<rect x="56" y="309.5" width="13" height="4.5" fill="#cbcbcc"/>
<rect x="79" y="309.5" width="13" height="4.5" fill="#cdcdce"/>
</g>
<g filter="url(#b1)">
<ellipse cx="62.2" cy="315.3" rx="7.8" ry="1.3" fill="#4a4a4b"/>
<ellipse cx="85.4" cy="315.0" rx="7.8" ry="1.5" fill="#3a3a3b"/>
<ellipse cx="108" cy="315.5" rx="3.5" ry="0.9" fill="#a0a0a1"/>
<ellipse cx="129.5" cy="315.7" rx="6" ry="0.9" fill="#b0b0b1"/>
</g>
<circle cx="90.60" cy="322.20" r="0.7" fill="#555"/>
<circle cx="80.70" cy="319.00" r="0.5" fill="#777"/>
<circle cx="57.30" cy="327.00" r="0.5" fill="#aaa"/>
<text x="144.9" y="317.5" font-size="9.8" text-anchor="start" fill="#1a1a1a" stroke="#1a1a1a" stroke-width="0.2">AQR</text>
<rect x="54.20" y="341.60" width="88.70" height="84.00" fill="#e4e4e5"/>
<g filter="url(#b3)">
<rect x="62.5" y="346.5" width="12.599999999999994" height="5.5" rx="2" fill="#acacad"/>
<rect x="84.8" y="346.5" width="11.100000000000009" height="5.5" rx="2" fill="#acacad"/>
<rect x="106.7" y="346.5" width="10.700000000000003" height="5.5" rx="2" fill="#acacad"/>
<rect x="128.1" y="346.5" width="10.900000000000006" height="5.5" rx="2" fill="#acacad"/>
<path d="M106 360.5 L121 359.5 L107 365.5 Z" fill="#bdbdbe"/>
</g>
<g filter="url(#b1)">
<rect x="61.0" y="351.0" width="14.8" height="8.1" rx="3.4" fill="#111"/>
<ellipse cx="90.2" cy="355.7" rx="7.0" ry="4.2" fill="#111"/>
<ellipse cx="112.0" cy="356.0" rx="6.9" ry="4.5" fill="#111"/>
<ellipse cx="133.5" cy="355.8" rx="7.0" ry="4.1" fill="#111"/>
<rect x="61.6" y="342.3" width="13.6" height="1.5" fill="#4a4a4b"/>
<ellipse cx="90.05" cy="343.6" rx="5.75" ry="0.85" fill="#3a3a3b"/>
<ellipse cx="111.65" cy="343.6" rx="4.75" ry="0.85" fill="#3a3a3b"/>
<ellipse cx="132.85000000000002" cy="343.6" rx="5.450000000000003" ry="0.85" fill="#3a3a3b"/>
<path d="M54.2 415.4 L57.6 416.2 L58.0 417.2 L54.2 418.2 Z" fill="#111"/>
<ellipse cx="70.95" cy="417.2" rx="9.450000000000003" ry="2.05" fill="#111"/>
<ellipse cx="91.6" cy="417.2" rx="7.699999999999996" ry="2.05" fill="#111"/>
<ellipse cx="112.5" cy="417.2" rx="7.5" ry="2.05" fill="#111"/>
<ellipse cx="133.5" cy="417.2" rx="7.900000000000006" ry="2.05" fill="#111"/>
<ellipse cx="72.3" cy="415.6" rx="3" ry="0.8" fill="#222"/>
</g>
<g filter="url(#b2)"><ellipse cx="97.5" cy="394.5" rx="3.8" ry="9" fill="none" stroke="#d6d6d6" stroke-width="1.5"/>
<rect x="139" y="390" width="3" height="12" fill="#c8c8c8"/></g>
<text x="54.0" y="353.6" font-size="9.8" text-anchor="end" fill="#1a1a1a" stroke="#1a1a1a" stroke-width="0.2">75 kDa-</text>
<text x="144.5" y="358.9" font-size="9.8" text-anchor="start" fill="#1a1a1a" stroke="#1a1a1a" stroke-width="0.2">Dbr1</text>
<text x="144.7" y="418.6" font-size="9.8" text-anchor="start" fill="#1a1a1a" stroke="#1a1a1a" stroke-width="0.2">GAPDH</text>
<text x="188.7" y="216.5" font-size="9.6" text-anchor="start" fill="#333" stroke="#333" stroke-width="0.2">D</text>
<line x1="237.8" y1="227.9" x2="237.8" y2="390.5" stroke="#000" stroke-width="1.2" stroke-linecap="butt"/>
<line x1="237.20000000000002" y1="390.0" x2="341.0" y2="390.0" stroke="#000" stroke-width="1.2" stroke-linecap="butt"/>
<line x1="233.7" y1="235.2" x2="237.8" y2="235.2" stroke="#000" stroke-width="1.0" stroke-linecap="butt"/>
<text x="230.5" y="238.0" font-size="8.0" text-anchor="end" fill="#1a1a1a" stroke="#1a1a1a" stroke-width="0.25">1.00</text>
<line x1="233.7" y1="272.025" x2="237.8" y2="272.025" stroke="#000" stroke-width="1.0" stroke-linecap="butt"/>
<text x="230.5" y="274.825" font-size="8.0" text-anchor="end" fill="#1a1a1a" stroke="#1a1a1a" stroke-width="0.25">0.75</text>
<line x1="233.7" y1="308.85" x2="237.8" y2="308.85" stroke="#000" stroke-width="1.0" stroke-linecap="butt"/>
<text x="230.5" y="311.65000000000003" font-size="8.0" text-anchor="end" fill="#1a1a1a" stroke="#1a1a1a" stroke-width="0.25">0.50</text>
<line x1="233.7" y1="345.675" x2="237.8" y2="345.675" stroke="#000" stroke-width="1.0" stroke-linecap="butt"/>
<text x="230.5" y="348.475" font-size="8.0" text-anchor="end" fill="#1a1a1a" stroke="#1a1a1a" stroke-width="0.25">0.25</text>
<line x1="233.7" y1="382.5" x2="237.8" y2="382.5" stroke="#000" stroke-width="1.0" stroke-linecap="butt"/>
<text x="230.5" y="385.3" font-size="8.0" text-anchor="end" fill="#1a1a1a" stroke="#1a1a1a" stroke-width="0.25">0.00</text>
<text x="208.6" y="308.8" font-size="9.58" text-anchor="middle" fill="#1a1a1a" stroke="#1a1a1a" stroke-width="0.2" transform="rotate(-90 208.6 308.8)">Lariat reads per million mapped reads</text>
<circle cx="252.60" cy="300.40" r="1.6" fill="#F07870"/>
<circle cx="252.60" cy="320.20" r="1.6" fill="#F07870"/>
<circle cx="252.60" cy="324.40" r="1.6" fill="#F07870"/>
<line x1="252.6" y1="307.7" x2="252.6" y2="322.5" stroke="#000" stroke-width="1.35" stroke-linecap="butt"/>
<line x1="249.0" y1="307.7" x2="256.2" y2="307.7" stroke="#000" stroke-width="1.4" stroke-linecap="butt"/>
<line x1="249.0" y1="322.5" x2="256.2" y2="322.5" stroke="#000" stroke-width="1.4" stroke-linecap="butt"/>
<circle cx="252.60" cy="315.10" r="1.6" fill="#000"/>
<line x1="252.6" y1="390.0" x2="252.6" y2="394.0" stroke="#000" stroke-width="1.0" stroke-linecap="butt"/>
<circle cx="277.10" cy="293.40" r="1.6" fill="#7CAE20"/>
<circle cx="277.10" cy="320.40" r="1.6" fill="#7CAE20"/>
<circle cx="277.10" cy="328.30" r="1.6" fill="#7CAE20"/>
<line x1="277.1" y1="303.5" x2="277.1" y2="324.6" stroke="#000" stroke-width="1.35" stroke-linecap="butt"/>
<line x1="273.5" y1="303.5" x2="280.70000000000005" y2="303.5" stroke="#000" stroke-width="1.4" stroke-linecap="butt"/>
<line x1="273.5" y1="324.6" x2="280.70000000000005" y2="324.6" stroke="#000" stroke-width="1.4" stroke-linecap="butt"/>
<circle cx="277.10" cy="314.00" r="1.6" fill="#000"/>
<line x1="277.1" y1="390.0" x2="277.1" y2="394.0" stroke="#000" stroke-width="1.0" stroke-linecap="butt"/>
<circle cx="301.70" cy="264.40" r="1.6" fill="#1CBCC2"/>
<circle cx="301.70" cy="290.90" r="1.6" fill="#1CBCC2"/>
<circle cx="301.70" cy="308.80" r="1.6" fill="#1CBCC2"/>
<line x1="301.7" y1="275.4" x2="301.7" y2="301.1" stroke="#000" stroke-width="1.35" stroke-linecap="butt"/>
<line x1="298.09999999999997" y1="275.4" x2="305.3" y2="275.4" stroke="#000" stroke-width="1.4" stroke-linecap="butt"/>
<line x1="298.09999999999997" y1="301.1" x2="305.3" y2="301.1" stroke="#000" stroke-width="1.4" stroke-linecap="butt"/>
<circle cx="301.70" cy="288.10" r="1.6" fill="#000"/>
<line x1="301.7" y1="390.0" x2="301.7" y2="394.0" stroke="#000" stroke-width="1.0" stroke-linecap="butt"/>
<circle cx="326.30" cy="261.90" r="1.6" fill="#B880D8"/>
<circle cx="326.30" cy="273.70" r="1.6" fill="#B880D8"/>
<circle cx="326.30" cy="292.40" r="1.6" fill="#B880D8"/>
<line x1="326.3" y1="266.9" x2="326.3" y2="284.7" stroke="#000" stroke-width="1.35" stroke-linecap="butt"/>
<line x1="322.7" y1="266.9" x2="329.90000000000003" y2="266.9" stroke="#000" stroke-width="1.4" stroke-linecap="butt"/>
<line x1="322.7" y1="284.7" x2="329.90000000000003" y2="284.7" stroke="#000" stroke-width="1.4" stroke-linecap="butt"/>
<circle cx="326.30" cy="276.00" r="1.6" fill="#000"/>
<line x1="326.3" y1="390.0" x2="326.3" y2="394.0" stroke="#000" stroke-width="1.0" stroke-linecap="butt"/>
<text x="252.6" y="404.6" font-size="9.5" text-anchor="middle" fill="#1a1a1a" stroke="#1a1a1a" stroke-width="0.2">UT</text>
<text x="277.1" y="404.6" font-size="9.5" text-anchor="middle" fill="#1a1a1a" stroke="#1a1a1a" stroke-width="0.2">NC</text>
<text x="301.7" y="404.6" font-size="9.5" text-anchor="middle" fill="#1a1a1a" stroke="#1a1a1a" stroke-width="0.2">KD1</text>
<text x="326.3" y="404.6" font-size="9.5" text-anchor="middle" fill="#1a1a1a" stroke="#1a1a1a" stroke-width="0.2">KD2</text>
<text x="345.8" y="216.8" font-size="9.8" text-anchor="start" fill="#444" stroke="#444" stroke-width="0.2">E</text>
<path d="M381.9 280.8 L381.90 253.90 A26.9 26.9 0 0 1 406.66 270.29 Z" fill="#1a72bd" stroke="#1a72bd" stroke-width="0.35" stroke-linejoin="round"/>
<path d="M381.9 280.8 L406.66 270.29 A26.9 26.9 0 0 1 376.03 307.05 Z" fill="#7b3f98" stroke="#7b3f98" stroke-width="0.35" stroke-linejoin="round"/>
<path d="M381.9 280.8 L376.03 307.05 A26.9 26.9 0 0 1 362.29 299.21 Z" fill="#f26b27" stroke="#f26b27" stroke-width="0.35" stroke-linejoin="round"/>
<path d="M381.9 280.8 L362.29 299.21 A26.9 26.9 0 0 1 381.90 253.90 Z" fill="#1f9e4a" stroke="#1f9e4a" stroke-width="0.35" stroke-linejoin="round"/>
<path d="M452.0 280.8 L452.00 253.90 A26.9 26.9 0 0 1 477.63 288.98 Z" fill="#1a72bd" stroke="#1a72bd" stroke-width="0.35" stroke-linejoin="round"/>
<path d="M452.0 280.8 L477.63 288.98 A26.9 26.9 0 0 1 441.53 305.58 Z" fill="#7b3f98" stroke="#7b3f98" stroke-width="0.35" stroke-linejoin="round"/>
<path d="M452.0 280.8 L441.53 305.58 A26.9 26.9 0 0 1 427.78 292.51 Z" fill="#f26b27" stroke="#f26b27" stroke-width="0.35" stroke-linejoin="round"/>
<path d="M452.0 280.8 L427.78 292.51 A26.9 26.9 0 0 1 452.00 253.90 Z" fill="#1f9e4a" stroke="#1f9e4a" stroke-width="0.35" stroke-linejoin="round"/>
<path d="M382.0 351.1 L382.00 324.20 A26.9 26.9 0 0 1 402.88 334.13 Z" fill="#1a72bd" stroke="#1a72bd" stroke-width="0.35" stroke-linejoin="round"/>
<path d="M382.0 351.1 L402.88 334.13 A26.9 26.9 0 0 1 399.58 371.46 Z" fill="#7b3f98" stroke="#7b3f98" stroke-width="0.35" stroke-linejoin="round"/>
<path d="M382.0 351.1 L399.58 371.46 A26.9 26.9 0 0 1 393.71 375.32 Z" fill="#f26b27" stroke="#f26b27" stroke-width="0.35" stroke-linejoin="round"/>
<path d="M382.0 351.1 L393.71 375.32 A26.9 26.9 0 1 1 382.00 324.20 Z" fill="#1f9e4a" stroke="#1f9e4a" stroke-width="0.35" stroke-linejoin="round"/>
<path d="M452.0 351.0 L452.00 324.10 A26.9 26.9 0 0 1 476.94 340.92 Z" fill="#1a72bd" stroke="#1a72bd" stroke-width="0.35" stroke-linejoin="round"/>
<path d="M452.0 351.0 L476.94 340.92 A26.9 26.9 0 0 1 465.21 374.44 Z" fill="#7b3f98" stroke="#7b3f98" stroke-width="0.35" stroke-linejoin="round"/>
<path d="M452.0 351.0 L465.21 374.44 A26.9 26.9 0 0 1 446.27 377.28 Z" fill="#f26b27" stroke="#f26b27" stroke-width="0.35" stroke-linejoin="round"/>
<path d="M452.0 351.0 L446.27 377.28 A26.9 26.9 0 0 1 452.00 324.10 Z" fill="#1f9e4a" stroke="#1f9e4a" stroke-width="0.35" stroke-linejoin="round"/>
<text x="381.8" y="249.0" font-size="8.0" text-anchor="middle" fill="#1a1a1a" stroke="#1a1a1a" stroke-width="0.12">Untreated</text>
<text x="452.1" y="249.0" font-size="8.0" text-anchor="middle" fill="#1a1a1a" stroke="#1a1a1a" stroke-width="0.12">Negative control</text>
<text x="381.6" y="319.3" font-size="8.0" text-anchor="middle" fill="#1a1a1a" stroke="#1a1a1a" stroke-width="0.12">KD1</text>
<text x="452.1" y="319.3" font-size="8.0" text-anchor="middle" fill="#1a1a1a" stroke="#1a1a1a" stroke-width="0.12">KD2</text>
<text x="367.75" y="278.5" font-size="8.4" text-anchor="middle" fill="#111" stroke="#111" stroke-width="0.12">37%</text>
<text x="438.75" y="276.9" font-size="8.4" text-anchor="middle" fill="#111" stroke="#111" stroke-width="0.12">33%</text>
<text x="369.95" y="358.8" font-size="8.4" text-anchor="middle" fill="#111" stroke="#111" stroke-width="0.12">57%</text>
<text x="438.75" y="354.5" font-size="8.4" text-anchor="middle" fill="#111" stroke="#111" stroke-width="0.12">47%</text>
<rect x="382.90" y="385.50" width="7.50" height="7.60" fill="#1f9e4a"/>
<text x="395.6" y="392.3" font-size="8.2" text-anchor="middle" fill="#333" stroke="#333" stroke-width="0.15">A</text>
<rect x="400.90" y="385.50" width="7.50" height="7.60" fill="#f26b27"/>
<text x="413.4" y="392.3" font-size="8.2" text-anchor="middle" fill="#333" stroke="#333" stroke-width="0.15">C</text>
<rect x="418.80" y="385.50" width="7.50" height="7.60" fill="#7b3f98"/>
<text x="431.4" y="392.3" font-size="8.2" text-anchor="middle" fill="#333" stroke="#333" stroke-width="0.15">G</text>
<rect x="436.60" y="385.50" width="7.50" height="7.60" fill="#1a72bd"/>
<text x="448.6" y="392.3" font-size="8.2" text-anchor="middle" fill="#333" stroke="#333" stroke-width="0.15">T</text>
<text x="496.4" y="310.2" font-size="9.2" text-anchor="start" fill="#333" stroke="#333" stroke-width="0.2">F</text>
<text x="576.4" y="322.4" font-size="9.5" text-anchor="end" fill="#1a1a1a" stroke="#1a1a1a" stroke-width="0.2">0.04</text>
<line x1="576.9" y1="319.2" x2="578.6" y2="319.2" stroke="#555" stroke-width="0.8" stroke-linecap="butt"/>
<text x="576.4" y="342.7" font-size="9.5" text-anchor="end" fill="#1a1a1a" stroke="#1a1a1a" stroke-width="0.2">0.03</text>
<line x1="576.9" y1="339.5" x2="578.6" y2="339.5" stroke="#555" stroke-width="0.8" stroke-linecap="butt"/>
<text x="576.4" y="362.99999999999994" font-size="9.5" text-anchor="end" fill="#1a1a1a" stroke="#1a1a1a" stroke-width="0.2">0.02</text>
<line x1="576.9" y1="359.79999999999995" x2="578.6" y2="359.79999999999995" stroke="#555" stroke-width="0.8" stroke-linecap="butt"/>
<text x="576.4" y="383.29999999999995" font-size="9.5" text-anchor="end" fill="#1a1a1a" stroke="#1a1a1a" stroke-width="0.2">0.01</text>
<line x1="576.9" y1="380.09999999999997" x2="578.6" y2="380.09999999999997" stroke="#555" stroke-width="0.8" stroke-linecap="butt"/>
<text x="576.4" y="403.59999999999997" font-size="9.5" text-anchor="end" fill="#1a1a1a" stroke="#1a1a1a" stroke-width="0.2">0</text>
<line x1="576.9" y1="400.4" x2="578.6" y2="400.4" stroke="#555" stroke-width="0.8" stroke-linecap="butt"/>
<rect x="584.20" y="351.90" width="35.10" height="48.80" fill="#595959"/>
<rect x="623.00" y="320.20" width="35.30" height="80.50" fill="#595959"/>
<line x1="601.7" y1="348.7" x2="601.7" y2="354.8" stroke="#000" stroke-width="1.3" stroke-linecap="butt"/>
<line x1="596.2" y1="348.7" x2="607.2" y2="348.7" stroke="#000" stroke-width="1.3" stroke-linecap="butt"/>
<line x1="596.2" y1="354.8" x2="607.2" y2="354.8" stroke="#000" stroke-width="1.3" stroke-linecap="butt"/>
<line x1="601.7" y1="403.4" x2="601.7" y2="405.9" stroke="#222" stroke-width="1.0" stroke-linecap="butt"/>
<line x1="640.7" y1="315.4" x2="640.7" y2="323.3" stroke="#000" stroke-width="1.3" stroke-linecap="butt"/>
<line x1="635.2" y1="315.4" x2="646.2" y2="315.4" stroke="#000" stroke-width="1.3" stroke-linecap="butt"/>
<line x1="635.2" y1="323.3" x2="646.2" y2="323.3" stroke="#000" stroke-width="1.3" stroke-linecap="butt"/>
<line x1="640.7" y1="403.4" x2="640.7" y2="405.9" stroke="#222" stroke-width="1.0" stroke-linecap="butt"/>
<text x="601.7" y="413.8" font-size="9.5" text-anchor="middle" fill="#1a1a1a" stroke="#1a1a1a" stroke-width="0.2">No motif</text>
<text x="640.7" y="413.8" font-size="9.5" text-anchor="middle" fill="#1a1a1a" stroke="#1a1a1a" stroke-width="0.2">Motif</text>
<text x="539.0" y="357.6" font-size="9.5" text-anchor="middle" fill="#1a1a1a" stroke="#1a1a1a" stroke-width="0.2" transform="rotate(-90 539.0 357.6)">C22/293T lariat</text>
<text x="552.0" y="359.8" font-size="9.5" text-anchor="middle" fill="#1a1a1a" stroke="#1a1a1a" stroke-width="0.2" transform="rotate(-90 552.0 359.8)">fold change (Log<tspan font-size="6.2" dy="2.6">2</tspan><tspan dy="-2.6">)</tspan></text>
</svg>
</body></html>
